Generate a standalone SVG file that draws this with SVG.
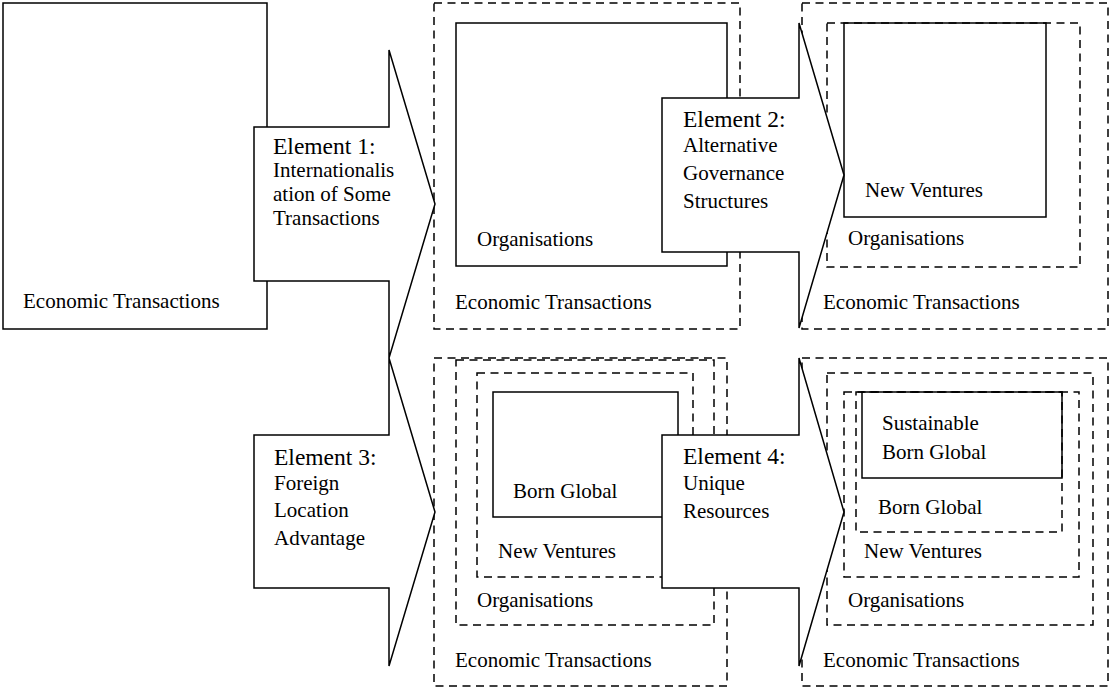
<svg xmlns="http://www.w3.org/2000/svg" width="1110" height="689" viewBox="0 0 1110 689">
<style>
.solid{fill:none;stroke:#000;stroke-width:1.5}
.dash{fill:none;stroke:#000;stroke-width:1.5;stroke-dasharray:8 5.5}
.arrow{fill:#fff;stroke:#000;stroke-width:1.5;stroke-linejoin:miter}
text{font-family:"Liberation Serif","Times New Roman",serif;font-size:21px;fill:#000}
.head{font-size:23.5px}
</style>
<rect width="1110" height="689" fill="#fff"/>
<g id="panel-start">
<rect class="solid" x="3" y="3" width="264" height="326"/>
<text x="23" y="308">Economic Transactions</text>
</g>
<g id="panel-1">
<rect class="dash" x="434" y="3" width="306" height="326"/>
<rect class="solid" x="456" y="23" width="271" height="243"/>
<text x="477" y="246">Organisations</text>
<text x="455" y="309">Economic Transactions</text>
</g>
<g id="panel-2">
<rect class="dash" x="802" y="3" width="306" height="326"/>
<rect class="dash" x="827" y="23" width="253" height="244"/>
<rect class="solid" x="844" y="23" width="202" height="194"/>
<text x="865" y="197">New Ventures</text>
<text x="848" y="245">Organisations</text>
<text x="823" y="309">Economic Transactions</text>
</g>
<g id="panel-3">
<rect class="dash" x="434" y="358" width="293" height="328"/>
<rect class="dash" x="456" y="360" width="258" height="265"/>
<rect class="dash" x="477" y="373" width="216" height="204"/>
<rect class="solid" x="493" y="392" width="185" height="125"/>
<text x="513" y="498">Born Global</text>
<text x="498" y="558">New Ventures</text>
<text x="477" y="607">Organisations</text>
<text x="455" y="667">Economic Transactions</text>
</g>
<g id="panel-4">
<rect class="dash" x="802" y="358" width="306" height="328"/>
<rect class="dash" x="827" y="373" width="266" height="252"/>
<rect class="dash" x="844" y="392" width="235" height="185"/>
<rect class="dash" x="856" y="392" width="206" height="140"/>
<rect class="solid" x="862" y="392" width="200" height="86"/>
<text x="882" y="430">Sustainable</text>
<text x="882" y="459">Born Global</text>
<text x="878" y="514">Born Global</text>
<text x="864" y="558">New Ventures</text>
<text x="848" y="607">Organisations</text>
<text x="823" y="667">Economic Transactions</text>
</g>
<g id="connectors">
<g id="element-1">
<path class="arrow" d="M254,127 H389 V50 L435,204 L389,358 V281 H254 Z"/>
<text class="head" x="273" y="154">Element 1:</text>
<text x="273" y="177">Internationalis</text>
<text x="273" y="201">ation of Some</text>
<text x="273" y="225">Transactions</text>
</g>
<g id="element-2">
<path class="arrow" d="M662,98 H799 V23 L844,175 L799,328 V252 H662 Z"/>
<text class="head" x="683" y="127">Element 2:</text>
<text x="683" y="152">Alternative</text>
<text x="683" y="180">Governance</text>
<text x="683" y="208">Structures</text>
</g>
<g id="element-3">
<path class="arrow" d="M254,435 H389 V358 L435,512 L389,666 V588 H254 Z"/>
<text class="head" x="274" y="465">Element 3:</text>
<text x="274" y="490">Foreign</text>
<text x="274" y="517">Location</text>
<text x="274" y="545">Advantage</text>
</g>
<g id="element-4">
<path class="arrow" d="M662,435 H799 V358 L844,512 L799,666 V588 H662 Z"/>
<text class="head" x="683" y="464">Element 4:</text>
<text x="683" y="490">Unique</text>
<text x="683" y="518">Resources</text>
</g>
</g>
</svg>
